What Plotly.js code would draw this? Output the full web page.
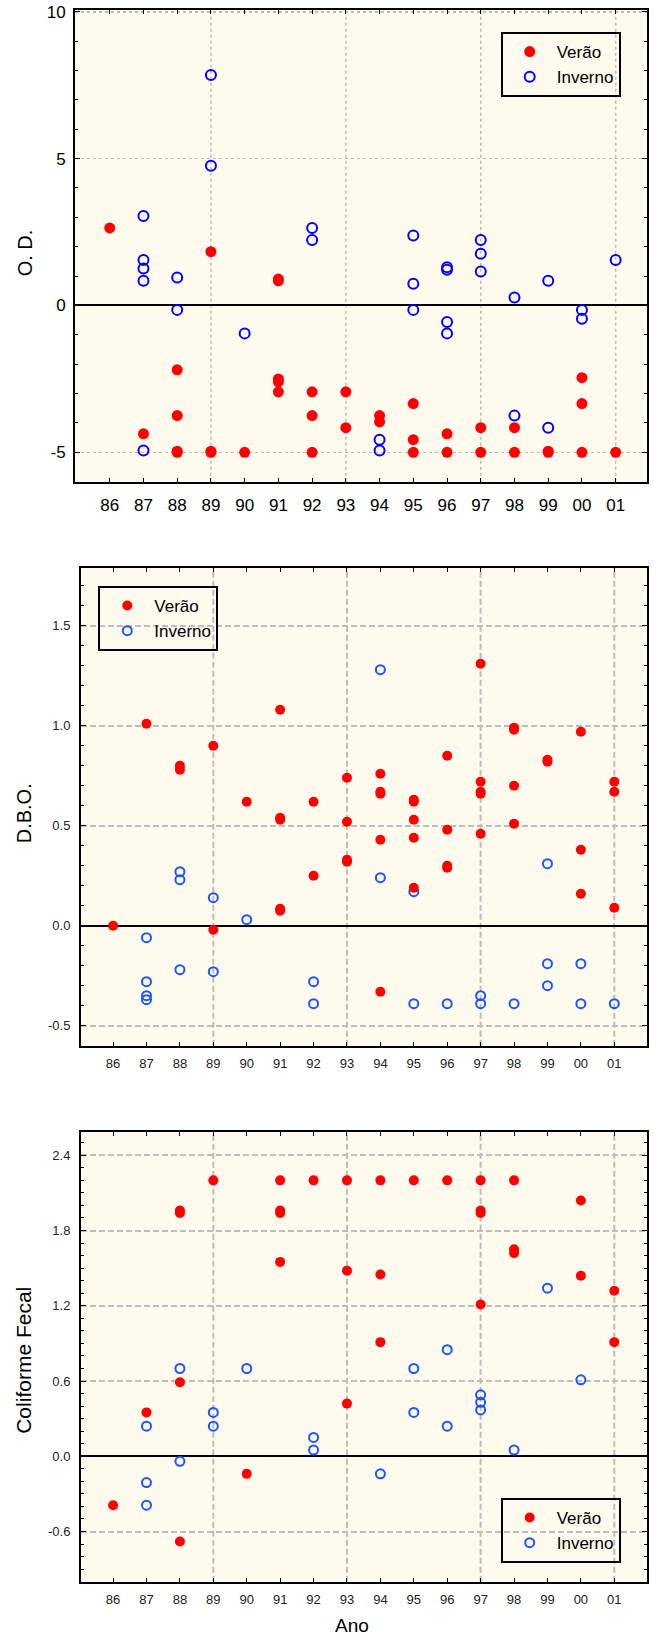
<!DOCTYPE html>
<html>
<head>
<meta charset="utf-8">
<script src="https://cdn.plot.ly/plotly-3.0.1.min.js"></script>
<style>
  html, body { margin: 0; padding: 0; background: #ffffff; }
  #chart { width: 654px; height: 1639px; }
</style>
</head>
<body>
<div id="chart"></div>
<script>
// ---------- DATA ----------
const yearLabels = ['86','87','88','89','90','91','92','93','94','95','96','97','98','99','00','01'];
const gridYears = ['89','93','97','01'];
const seriesNames = ['Verão', 'Inverno'];
const axisTitles = ['O. D.', 'D.B.O.', 'Coliforme Fecal'];
const xTitle = 'Ano';

// O. D.
const odVeraoAno = ['86','87','88','88','88','88','89','89','89','90','91','91','91','91','91','92','92','92','93','93','94','94','95','95','95','96','96','97','97','98','98','99','99','00','00','00','01'];
const odVeraoVal = [2.64,-4.37,-2.19,-3.75,-5.0,-4.96,1.83,-5.0,-4.96,-5.0,0.84,0.9,-2.5,-2.6,-2.94,-2.94,-3.75,-5.0,-2.94,-4.16,-3.75,-3.96,-3.34,-4.57,-5.0,-4.37,-5.0,-4.16,-5.0,-4.16,-5.0,-5.0,-4.96,-2.46,-3.34,-5.0,-5.0];
const odInvernoAno = ['87','87','87','87','87','88','88','89','89','90','92','92','94','94','95','95','95','96','96','96','96','97','97','97','98','98','99','99','00','00','01'];
const odInvernoVal = [3.05,1.55,1.26,0.84,-4.94,0.95,-0.15,7.85,4.76,-0.95,2.64,2.23,-4.57,-4.94,2.38,0.74,-0.15,1.22,1.3,-0.56,-0.95,2.23,1.76,1.16,0.27,-3.75,0.84,-4.16,-0.15,-0.45,1.55];

// D.B.O.
const dboVeraoAno = ['86','87','88','88','89','89','90','91','91','91','91','91','92','92','93','93','93','93','94','94','94','94','94','95','95','95','95','95','96','96','96','96','97','97','97','97','97','98','98','98','98','99','99','00','00','00','01','01','01'];
const dboVeraoVal = [0.0,1.01,0.80,0.78,0.90,-0.02,0.62,1.08,0.54,0.53,0.075,0.085,0.62,0.25,0.74,0.52,0.33,0.32,0.76,0.67,0.66,0.43,-0.33,0.63,0.62,0.53,0.44,0.19,0.85,0.48,0.30,0.29,1.31,0.72,0.67,0.66,0.46,0.99,0.98,0.70,0.51,0.83,0.82,0.97,0.38,0.16,0.72,0.67,0.09];
const dboInvernoAno = ['87','87','87','87','88','88','88','89','89','90','92','92','94','94','95','95','96','97','97','98','99','99','99','00','00','01'];
const dboInvernoVal = [-0.06,-0.28,-0.35,-0.37,0.27,0.23,-0.22,0.14,-0.23,0.03,-0.28,-0.39,1.28,0.24,0.17,-0.39,-0.39,-0.35,-0.39,-0.39,0.31,-0.19,-0.30,-0.19,-0.39,-0.39];

// Coliforme Fecal
const cfVeraoAno = ['86','87','88','88','88','88','89','90','91','91','91','91','92','93','93','93','94','94','94','95','96','97','97','97','97','98','98','98','00','00','01','01'];
const cfVeraoVal = [-0.39,0.35,1.96,1.94,0.59,-0.68,2.20,-0.14,2.20,1.96,1.94,1.55,2.20,2.20,1.48,0.42,2.20,1.45,0.91,2.20,2.20,2.20,1.96,1.94,1.21,2.20,1.65,1.62,2.04,1.44,1.32,0.91];
const cfInvernoAno = ['87','87','87','88','88','89','89','90','92','92','94','95','95','96','96','97','97','97','98','99','00'];
const cfInvernoVal = [0.24,-0.21,-0.39,0.70,-0.04,0.35,0.24,0.70,0.15,0.05,-0.14,0.70,0.35,0.85,0.24,0.49,0.43,0.37,0.05,1.34,0.61];

// Y ticks per panel (values and their printed labels)
const odTicks = [-5, 0, 5, 10];
const odTickText = ['-5', '0', '5', '10'];
const dboTicks = [-0.5, 0, 0.5, 1.0, 1.5];
const dboTickText = ['-0.5', '0.0', '0.5', '1.0', '1.5'];
const cfTicks = [-0.6, 0, 0.6, 1.2, 1.8, 2.4];
const cfTickText = ['-0.6', '0.0', '0.6', '1.2', '1.8', '2.4'];

// ---------- LAYOUT HELPERS ----------
const W = 654, H = 1639;
const FONT = 'Liberation Sans, Arial, Helvetica, sans-serif';
const fx = v => v / W;
const fy = v => 1 - v / H;

const panels = [
  { // O. D.
    left: 75, right: 646.7, top: 10, bottom: 481.7,
    xr: [-1.03, 15.92], yr: [-6, 10.06],
    ticks: odTicks, tickText: odTickText, minor: 1,
    tickFont: 17, tickColor: '#000', xStandoff: 7, yStandoff: 4,
    grid: { color: '#bcbcbc', width: 1.5, dash: 'dot' },
    red: '#ff0000', blue: '#0000ff', mSize: 10,
    inv: odInvernoAno, invV: odInvernoVal, ver: odVeraoAno, verV: odVeraoVal,
    legend: { left: 500.7, top: 32 },
    title: { x: 25, y: 253.3, size: 20 }
  },
  { // D.B.O.
    left: 81, right: 646.7, top: 568.3, bottom: 1045.7,
    xr: [-0.96, 15.97], yr: [-0.6, 1.787],
    ticks: dboTicks, tickText: dboTickText, minor: 0.1,
    tickFont: 13, tickColor: '#222', xStandoff: 5, yStandoff: 6,
    grid: { color: '#bdbdbd', width: 2, dash: '6px,3px' },
    red: '#ff0000', blue: '#1a55ff', mSize: 9,
    inv: dboInvernoAno, invV: dboInvernoVal, ver: dboVeraoAno, verV: dboVeraoVal,
    legend: { left: 98.3, top: 586 },
    title: { x: 24.3, y: 813, size: 20 }
  },
  { // Coliforme Fecal
    left: 81, right: 646.7, top: 1131.7, bottom: 1581.7,
    xr: [-0.96, 15.97], yr: [-1.0, 2.588],
    ticks: cfTicks, tickText: cfTickText, minor: 0.1,
    tickFont: 13, tickColor: '#222', xStandoff: 5, yStandoff: 6,
    grid: { color: '#bdbdbd', width: 2, dash: '6px,3px' },
    red: '#ff0000', blue: '#1a55ff', mSize: 9,
    inv: cfInvernoAno, invV: cfInvernoVal, ver: cfVeraoAno, verV: cfVeraoVal,
    legend: { left: 500.7, top: 1498 },
    title: { x: 24, y: 1360.8, size: 21 }
  }
];

const data = [];
const layout = {
  width: W, height: H,
  margin: { l: 0, r: 0, t: 0, b: 0, pad: 0 },
  paper_bgcolor: '#ffffff',
  plot_bgcolor: '#fffaee',
  font: { family: FONT, color: '#000' },
  showlegend: true,
  hovermode: false,
  shapes: [],
  annotations: []
};

panels.forEach((p, i) => {
  const n = i === 0 ? '' : String(i + 1);
  const xa = 'x' + n, ya = 'y' + n;
  const legName = 'legend' + n;

  layout['xaxis' + n] = {
    type: 'category',
    categoryorder: 'array', categoryarray: yearLabels,
    domain: [fx(p.left), fx(p.right)],
    anchor: ya,
    range: p.xr,
    tickmode: 'linear', tick0: 0, dtick: 1,
    ticks: 'inside', ticklen: 4, tickwidth: 1, tickcolor: '#000',
    showline: true, mirror: 'allticks', linecolor: '#000', linewidth: 2,
    showgrid: false, zeroline: false,
    tickfont: { family: FONT, size: p.tickFont, color: p.tickColor },
    ticklabelstandoff: p.xStandoff,
    fixedrange: true
  };
  layout['yaxis' + n] = {
    domain: [fy(p.bottom), fy(p.top)],
    anchor: xa,
    range: p.yr,
    tickmode: 'array', tickvals: p.ticks, ticktext: p.tickText,
    ticks: 'inside', ticklen: 5, tickwidth: 1, tickcolor: '#000',
    showline: true, mirror: 'allticks', linecolor: '#000', linewidth: 2,
    showgrid: true, gridcolor: p.grid.color, gridwidth: p.grid.width, griddash: p.grid.dash,
    zeroline: true, zerolinecolor: '#000', zerolinewidth: 2,
    minor: { tickmode: 'linear', tick0: 0, dtick: p.minor, ticks: 'inside', ticklen: 3, tickwidth: 1, tickcolor: '#000', showgrid: false },
    tickfont: { family: FONT, size: p.tickFont, color: p.tickColor },
    ticklabelstandoff: p.yStandoff,
    fixedrange: true
  };

  layout[legName] = {
    x: fx(p.legend.left), y: fy(p.legend.top),
    xanchor: 'left', yanchor: 'top',
    xref: 'paper', yref: 'paper',
    bgcolor: 'rgba(0,0,0,0)',
    bordercolor: '#000', borderwidth: 2,
    font: { family: FONT, size: 17, color: '#000' },
    traceorder: 'normal',
    itemwidth: 44
  };

  // vertical grid lines at selected years (via category index on axis)
  gridYears.forEach(g => {
    const idx = yearLabels.indexOf(g);
    layout.shapes.push({
      type: 'line', xref: xa, yref: ya + ' domain',
      x0: idx, x1: idx, y0: 0, y1: 1,
      line: { color: p.grid.color, width: p.grid.width, dash: p.grid.dash },
      layer: 'below'
    });
  });

  // y axis title
  layout.annotations.push({
    text: axisTitles[i], xref: 'paper', yref: 'paper',
    x: fx(p.title.x), y: fy(p.title.y), xanchor: 'center', yanchor: 'middle',
    textangle: -90, showarrow: false,
    font: { family: FONT, size: p.title.size, color: '#000' }
  });

  // Inverno first (drawn below), Verão on top; legend rank puts Verão first
  data.push({
    type: 'scatter', mode: 'markers',
    name: seriesNames[1], legend: legName, legendrank: 2,
    x: p.inv, y: p.invV, xaxis: xa, yaxis: ya,
    marker: { symbol: 'circle-open', size: p.mSize, color: p.blue, line: { width: 2, color: p.blue } },
    cliponaxis: false
  });
  data.push({
    type: 'scatter', mode: 'markers',
    name: seriesNames[0], legend: legName, legendrank: 1,
    x: p.ver, y: p.verV, xaxis: xa, yaxis: ya,
    marker: { symbol: 'circle', size: p.mSize + 1, color: p.red, line: { width: 0 } },
    cliponaxis: false
  });
});

// x-axis title of the bottom panel
layout.annotations.push({
  text: xTitle, xref: 'paper', yref: 'paper',
  x: fx(351.7), y: fy(1625.7), xanchor: 'center', yanchor: 'middle',
  showarrow: false,
  font: { family: FONT, size: 19, color: '#000' }
});

Plotly.newPlot('chart', data, layout, { displayModeBar: false, staticPlot: true });
</script>
</body>
</html>
